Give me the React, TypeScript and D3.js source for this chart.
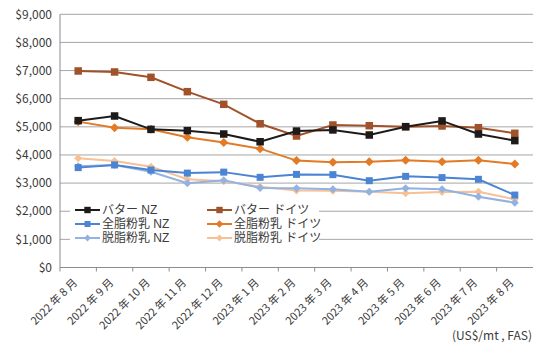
import React, { useEffect, useRef } from 'react';
import * as d3 from 'd3';

const months = [
  '2022 年 8 月', '2022 年 9 月', '2022 年 10 月', '2022 年 11 月', '2022 年 12 月',
  '2023 年 1 月', '2023 年 2 月', '2023 年 3 月', '2023 年 4 月', '2023 年 5 月',
  '2023 年 6 月', '2023 年 7 月', '2023 年 8 月',
];

const butterNZ = [5220, 5385, 4910, 4865, 4745, 4470, 4850, 4890, 4710, 5005, 5210, 4745, 4510];
const butterDE = [6985, 6950, 6760, 6250, 5800, 5110, 4675, 5065, 5040, 5005, 5030, 4970, 4770];
const wmpNZ = [3550, 3645, 3465, 3355, 3390, 3205, 3310, 3300, 3085, 3240, 3195, 3135, 2575];
const wmpDE = [5185, 4970, 4915, 4630, 4440, 4225, 3800, 3740, 3760, 3810, 3760, 3810, 3680];
const smpNZ = [3600, 3645, 3405, 2995, 3100, 2830, 2820, 2780, 2695, 2815, 2780, 2515, 2305];
const smpDE = [3880, 3785, 3585, 3135, 3070, 2870, 2740, 2730, 2695, 2635, 2685, 2695, 2425];

const yTicks = [0, 1000, 2000, 3000, 4000, 5000, 6000, 7000, 8000, 9000];

const series = [
  { name: '脱脂粉乳 ドイツ', values: smpDE, color: '#f5c195', marker: 'diamond', size: 4, col: 1, row: 2 },
  { name: '脱脂粉乳 NZ', values: smpNZ, color: '#92b2e2', marker: 'diamond', size: 4, col: 0, row: 2 },
  { name: '全脂粉乳 ドイツ', values: wmpDE, color: '#e27a26', marker: 'diamond', size: 4.5, col: 1, row: 1 },
  { name: '全脂粉乳 NZ', values: wmpNZ, color: '#4a84d2', marker: 'square', size: 7, col: 0, row: 1 },
  { name: 'バター ドイツ', values: butterDE, color: '#a0522a', marker: 'square', size: 7.5, col: 1, row: 0 },
  { name: 'バター NZ', values: butterNZ, color: '#1e1a1a', marker: 'square', size: 7.5, col: 0, row: 0 },
];

const font = '"Noto Sans CJK JP", "Noto Sans", sans-serif';
const legendFont = '"Liberation Sans", "Noto Sans CJK JP", sans-serif';

const App: React.FC = () => {
  const chartRef = useRef<SVGSVGElement>(null);

  useEffect(() => {
    document.body.style.margin = '0';
    const svg = d3.select(chartRef.current);
    svg.selectAll('*').remove();

    const left = 60, right = 533, top = 14.3, bottom = 267.5;

    const x = d3.scaleBand().domain(months).range([left, right]);
    const y = d3.scaleLinear().domain([0, 9000]).range([bottom, top]);
    const cx = (i: number) => (x(months[i]) ?? 0) + x.bandwidth() / 2;

    // gridlines
    svg.append('g')
      .selectAll('line')
      .data(yTicks.filter(d => d > 0))
      .enter().append('line')
      .attr('x1', left).attr('x2', right)
      .attr('y1', d => y(d)).attr('y2', d => y(d))
      .attr('stroke', '#a6a6a6').attr('stroke-width', 1);

    // y axis
    svg.append('line')
      .attr('x1', left).attr('x2', left).attr('y1', top).attr('y2', bottom)
      .attr('stroke', '#8c8c8c');
    svg.append('g')
      .selectAll('text')
      .data(yTicks)
      .enter().append('text')
      .attr('x', 52).attr('y', d => y(d))
      .attr('dy', '0.35em')
      .attr('text-anchor', 'end')
      .attr('font-family', font).attr('font-size', 12)
      .attr('fill', '#3a3a3a')
      .text(d => d3.format('$,')(d));

    // x axis
    svg.append('line')
      .attr('x1', left).attr('x2', right).attr('y1', bottom).attr('y2', bottom)
      .attr('stroke', '#8c8c8c');
    svg.append('g')
      .selectAll('line')
      .data(months)
      .enter().append('line')
      .attr('x1', d => x(d) ?? 0).attr('x2', d => x(d) ?? 0)
      .attr('y1', bottom).attr('y2', bottom + 4)
      .attr('stroke', '#8c8c8c');
    svg.append('g')
      .selectAll('text')
      .data(months)
      .enter().append('text')
      .attr('transform', (d, i) => `translate(${cx(i) - 3},${bottom + 13}) rotate(-45)`)
      .attr('text-anchor', 'end')
      .attr('dy', '0.35em')
      .attr('font-family', font).attr('font-size', 11)
      .attr('fill', '#3a3a3a')
      .text(d => d);

    const line = d3.line<number>().x((d, i) => cx(i)).y(d => y(d));

    const drawMarker = (g: any, s: typeof series[number], px: number, py: number, k = 1) => {
      const sz = s.size * k;
      if (s.marker === 'square') {
        g.append('rect')
          .attr('x', px - sz / 2).attr('y', py - sz / 2)
          .attr('width', sz).attr('height', sz)
          .attr('fill', s.color);
      } else {
        g.append('path')
          .attr('d', `M${px},${py - sz}L${px + sz},${py}L${px},${py + sz}L${px - sz},${py}Z`)
          .attr('fill', s.color);
      }
    };

    series.forEach(s => {
      const g = svg.append('g');
      g.append('path')
        .attr('d', line(s.values))
        .attr('fill', 'none')
        .attr('stroke', s.color)
        .attr('stroke-width', 2);
      s.values.forEach((v, i) => drawMarker(g, s, cx(i), y(v)));
    });

    // legend
    const lg = svg.append('g');
    lg.append('rect')
      .attr('x', 70).attr('y', 199).attr('width', 249).attr('height', 48)
      .attr('fill', '#fff');
    series.forEach(s => {
      const lx = 75 + s.col * 132;
      const ly = 210 + s.row * 14;
      const g = lg.append('g');
      g.append('line')
        .attr('x1', lx).attr('x2', lx + 25).attr('y1', ly).attr('y2', ly)
        .attr('stroke', s.color).attr('stroke-width', 2);
      drawMarker(g, s, lx + 12.5, ly, 0.85);
      g.append('text')
        .attr('x', lx + 27).attr('y', ly)
        .attr('dy', '0.35em')
        .attr('font-family', legendFont).attr('font-size', 12)
        .attr('fill', '#3a3a3a')
        .text(s.name);
    });

    svg.append('text')
      .attr('x', 532).attr('y', 336)
      .attr('dy', '0.35em')
      .attr('text-anchor', 'end')
      .attr('font-family', font).attr('font-size', 12)
      .attr('fill', '#3a3a3a')
      .text('(US$/mt , FAS)');
  }, []);

  return <svg ref={chartRef} width="533" height="354" style={{ display: 'block', background: '#fff' }}></svg>;
};

export default App;
